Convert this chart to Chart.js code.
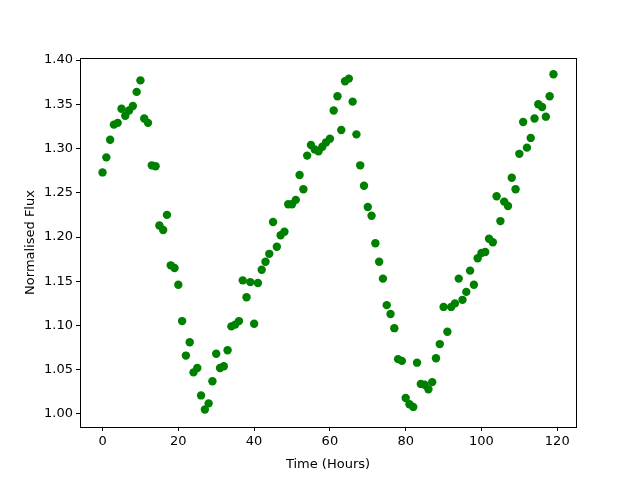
<!DOCTYPE html>
<html>
<head>
<meta charset="utf-8">
<script src="https://cdn.jsdelivr.net/npm/chart.js@4/dist/chart.umd.min.js"></script>
<style>
  html, body { margin: 0; padding: 0; background: #fff; }
  #wrap { width: 640px; height: 480px; }
</style>
</head>
<body>
<div id="wrap"><canvas id="chart" width="640" height="480"></canvas></div>
<script>
// time in hours
const hours = Array.from({ length: 120 }, (_, i) => i);
// normalised flux
const flux = [
  1.273, 1.290, 1.310, 1.327, 1.329, 1.345, 1.337, 1.343, 1.348, 1.364,
  1.377, 1.334, 1.329, 1.281, 1.280, 1.213, 1.208, 1.225, 1.168, 1.165,
  1.146, 1.105, 1.066, 1.081, 1.047, 1.052, 1.021, 1.005, 1.012, 1.037,
  1.068, 1.052, 1.054, 1.072, 1.099, 1.101, 1.105, 1.151, 1.132, 1.149,
  1.102, 1.148, 1.163, 1.172, 1.181, 1.217, 1.189, 1.202, 1.206, 1.237,
  1.237, 1.242, 1.270, 1.254, 1.292, 1.304, 1.299, 1.297, 1.302, 1.307,
  1.311, 1.343, 1.359, 1.321, 1.376, 1.379, 1.353, 1.316, 1.281, 1.258,
  1.234, 1.224, 1.193, 1.172, 1.153, 1.123, 1.113, 1.097, 1.062, 1.060,
  1.018, 1.011, 1.008, 1.058, 1.034, 1.033, 1.028, 1.036, 1.063, 1.079,
  1.121, 1.093, 1.121, 1.125, 1.153, 1.129, 1.138, 1.162, 1.146, 1.176,
  1.182, 1.183, 1.198, 1.194, 1.246, 1.218, 1.240, 1.235, 1.267, 1.254,
  1.294, 1.330, 1.301, 1.312, 1.334, 1.350, 1.347, 1.336, 1.359, 1.384
];
const xTicks = [0, 20, 40, 60, 80, 100, 120];
const yTicks = [1.00, 1.05, 1.10, 1.15, 1.20, 1.25, 1.30, 1.35, 1.40];

const font = { family: "'DejaVu Sans', sans-serif", size: 13 };

// draw the axes box like matplotlib
const frame = {
  id: "frame",
  afterDraw(chart) {
    const { ctx, chartArea: a } = chart;
    ctx.save();
    ctx.strokeStyle = "#000";
    ctx.lineWidth = 1;
    ctx.strokeRect(a.left + 0.5, a.top + 0.5, a.right - a.left, a.bottom - a.top);
    ctx.restore();
  }
};

new Chart(document.getElementById("chart"), {
  type: "scatter",
  data: {
    datasets: [{
      data: hours.map((h, i) => ({ x: h, y: flux[i] })),
      backgroundColor: "#008000",
      borderColor: "#008000",
      pointRadius: 4.2,
      pointHoverRadius: 4.2,
      borderWidth: 0
    }]
  },
  options: {
    responsive: false,
    animation: false,
    layout: { padding: { top: 58, right: 64, left: 19, bottom: 4 } },
    plugins: { legend: { display: false }, tooltip: { enabled: false } },
    scales: {
      x: {
        min: -5.95,
        max: 124.95,
        afterBuildTicks: (s) => { s.ticks = xTicks.map(v => ({ value: v })); },
        afterFit: (s) => { s.height = 49; },
        ticks: { color: "#000", font, padding: 3, maxRotation: 0 },
        grid: { drawOnChartArea: false, tickLength: 4, color: "#000" },
        border: { display: false },
        title: { display: true, text: "Time (Hours)", color: "#000", font, padding: { top: 2 } }
      },
      y: {
        min: 0.9853,
        max: 1.4023,
        afterBuildTicks: (s) => { s.ticks = yTicks.map(v => ({ value: v })); },
        afterFit: (s) => { s.width = 61; },
        ticks: { color: "#000", font, padding: 3, callback: (v) => v.toFixed(2) },
        grid: { drawOnChartArea: false, tickLength: 4, color: "#000" },
        border: { display: false },
        title: { display: true, text: "Normalised Flux", color: "#000", font, padding: { bottom: 4 } }
      }
    }
  },
  plugins: [frame]
});
</script>
</body>
</html>
